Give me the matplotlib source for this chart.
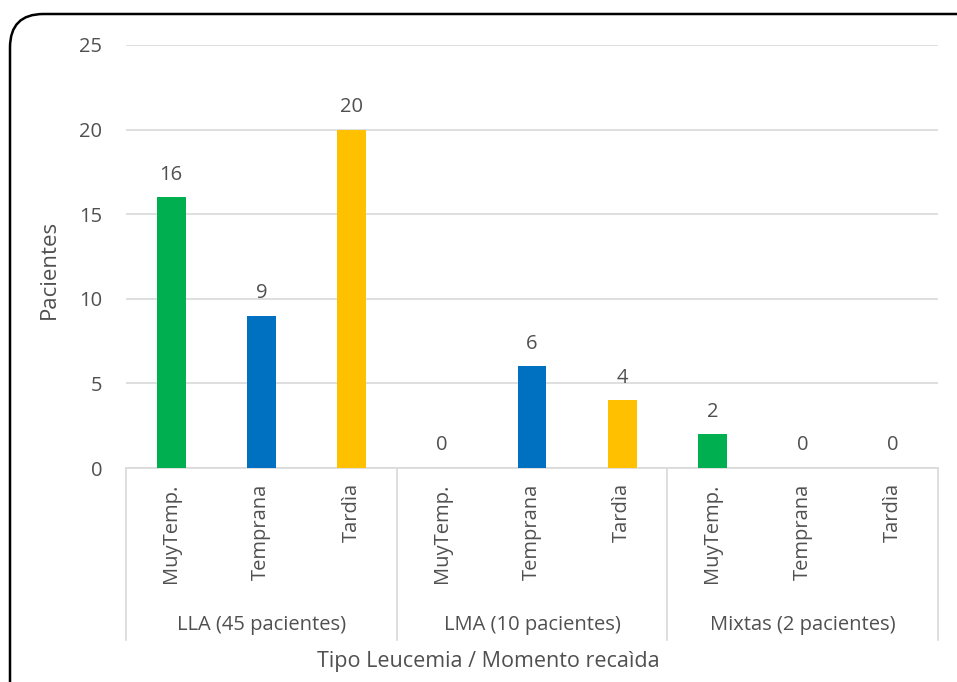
import matplotlib.pyplot as plt
from matplotlib.patches import FancyBboxPatch

groups = ["LLA (45 pacientes)", "LMA (10 pacientes)", "Mixtas (2 pacientes)"]
moments = ["MuyTemp.", "Temprana", "Tardìa"]
values = [[16, 9, 20], [0, 6, 4], [2, 0, 0]]
colors = ["#00b050", "#0070c0", "#ffc000"]

txt = "#505050"
grid = "#d9d9d9"
plt.rcParams['font.family'] = ['Open Sans', 'DejaVu Sans']

W, H = 957, 682
fig = plt.figure(figsize=(W / 100, H / 100), dpi=100)
ax = fig.add_axes([126 / W, 1 - 468 / H, (938 - 126) / W, (468 - 45) / H])

xs, hs, cs, labels = [], [], [], []
for g, vals in enumerate(values):
    for m, v in enumerate(vals):
        xs.append(g * 3 + m)
        hs.append(v)
        cs.append(colors[m])
        labels.append(moments[m])

bars = ax.bar(xs, hs, width=0.32, color=cs, zorder=3)
for x, v in zip(xs, hs):
    ax.annotate(str(v), (x, v), xytext=(0, 9), textcoords="offset points",
                ha="center", va="bottom", fontsize=14.5, color=txt)

ax.set_xlim(-0.5, len(xs) - 0.5)
ax.set_ylim(0, 25)
ax.set_yticks(range(0, 26, 5))
ax.yaxis.grid(True, color=grid, linewidth=1.2)
ax.set_axisbelow(True)
for s in ["top", "right", "left"]:
    ax.spines[s].set_visible(False)
ax.spines["bottom"].set_color(grid)
ax.spines["bottom"].set_linewidth(1.2)
ax.tick_params(axis="y", length=0, labelsize=14.5, labelcolor=txt, pad=17)
ax.tick_params(axis="x", length=0, labelsize=14.5, labelcolor=txt, pad=11)
ax.set_xticks(xs)
ax.set_xticklabels(labels, rotation=90)

depth = -(640 - 468) / (468 - 45)
for b in [-0.5, 2.5, 5.5, 8.5]:
    ax.plot([b, b], [0, depth], transform=ax.get_xaxis_transform(),
            color=grid, linewidth=1.2, clip_on=False)
for g, name in enumerate(groups):
    ax.text(g * 3 + 1, -(625 - 468) / (468 - 45), name, transform=ax.get_xaxis_transform(),
            ha="center", va="center", fontsize=14.5, color=txt)

ax.set_ylabel("Pacientes", fontsize=16, color=txt)
ax.yaxis.set_label_coords(-(126 - 60) / (938 - 126), 0.47)
fig.text(488 / W, 1 - 662 / H, "Tipo Leucemia / Momento recaìda",
         ha="center", va="center", fontsize=15.5, color=txt)

frame = FancyBboxPatch((10 / W, -0.05), 1.05, 1 - 14 / H + 0.05,
                       boxstyle="round,pad=0,rounding_size=0.035",
                       transform=fig.transFigure, facecolor="none",
                       edgecolor="black", linewidth=1.8, mutation_aspect=W / H)
fig.patches.append(frame)

fig.savefig("out.png", dpi=100)
